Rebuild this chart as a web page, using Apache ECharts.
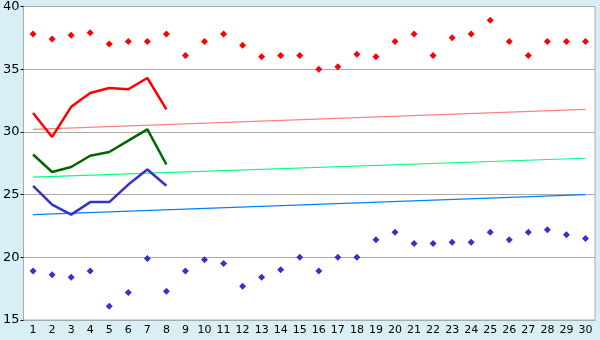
<!DOCTYPE html>
<html>
<head>
<meta charset="utf-8">
<script src="https://cdn.jsdelivr.net/npm/echarts@6/dist/echarts.min.js"></script>
<style>
  html, body { margin: 0; padding: 0; background: #d9eff6; }
  #chart { width: 600px; height: 340px; }
</style>
</head>
<body>
<div id="chart"></div>
<script>
// categories 1..30
var days = ['1','2','3','4','5','6','7','8','9','10','11','12','13','14','15',
            '16','17','18','19','20','21','22','23','24','25','26','27','28','29','30'];

// red points near the top
var highPoints = [37.8, 37.4, 37.7, 37.9, 37.0, 37.2, 37.2, 37.8, 36.1, 37.2,
                  37.8, 36.9, 36.0, 36.1, 36.1, 35.0, 35.2, 36.2, 36.0, 37.2,
                  37.8, 36.1, 37.5, 37.8, 38.9, 37.2, 36.1, 37.2, 37.2, 37.2];
// blue points near the bottom
var lowPoints = [18.9, 18.6, 18.4, 18.9, 16.1, 17.2, 19.9, 17.3, 18.9, 19.8,
                 19.5, 17.7, 18.4, 19.0, 20.0, 18.9, 20.0, 20.0, 21.4, 22.0,
                 21.1, 21.1, 21.2, 21.2, 22.0, 21.4, 22.0, 22.2, 21.8, 21.5];

// thick lines (first 8 days)
var redLine = [31.5, 29.6, 32.0, 33.1, 33.5, 33.4, 34.3, 31.8];
var greenLine = [28.2, 26.8, 27.2, 28.1, 28.4, 29.3, 30.2, 27.4];
var blueLine = [25.7, 24.2, 23.4, 24.4, 24.4, 25.8, 27.0, 25.7];

// thin straight lines, start / end values
var redTrend = [30.2, 31.8];
var greenTrend = [26.4, 27.9];
var blueTrend = [23.4, 25.0];

function ends(pair) {
    var arr = days.map(function () { return null; });
    arr[0] = pair[0];
    arr[days.length - 1] = pair[1];
    return arr;
}

function thick(name, data, color) {
    return {
        name: name, type: 'line', data: data, symbol: 'none',
        lineStyle: { color: color, width: 2.5 }, z: 4
    };
}

function thin(name, pair, color) {
    return {
        name: name, type: 'line', data: ends(pair), connectNulls: true, symbol: 'none',
        lineStyle: { color: color, width: 1.2 }, z: 3
    };
}

function dots(name, data, color) {
    return {
        name: name, type: 'scatter', data: data, symbol: 'diamond', symbolSize: 7,
        itemStyle: { color: color, opacity: 1 }, z: 5
    };
}

var chart = echarts.init(document.getElementById('chart'));
chart.setOption({
    backgroundColor: '#d9eff6',
    animation: false,
    grid: {
        left: 20, right: 5, top: 5, bottom: 20,
        show: true, backgroundColor: '#ffffff', borderColor: '#aaaaaa', borderWidth: 1
    },
    xAxis: {
        type: 'category',
        data: days,
        boundaryGap: true,
        axisLine: { lineStyle: { color: '#aaaaaa' } },
        axisTick: { alignWithLabel: true, length: 4, lineStyle: { color: '#000000' } },
        axisLabel: { color: '#000000', fontFamily: 'DejaVu Sans', fontSize: 11, margin: 5, interval: 0 },
        splitLine: { show: false }
    },
    yAxis: {
        type: 'value',
        min: 15, max: 40, interval: 5,
        axisLine: { show: true, lineStyle: { color: '#aaaaaa' } },
        axisTick: { show: true, length: 3, lineStyle: { color: '#000000' } },
        axisLabel: { color: '#000000', fontFamily: 'DejaVu Sans', fontSize: 13, margin: 4 },
        splitLine: { lineStyle: { color: '#aaaaaa', width: 1 } }
    },
    series: [
        thin('redTrend', redTrend, '#ff8080'),
        thin('greenTrend', greenTrend, '#00ff80'),
        thin('blueTrend', blueTrend, '#0080ff'),
        thick('red', redLine, '#ff0000'),
        thick('green', greenLine, '#006600'),
        thick('blue', blueLine, '#3333cc'),
        dots('high', highPoints, '#ff0000'),
        dots('low', lowPoints, '#3333cc')
    ]
});
</script>
</body>
</html>
